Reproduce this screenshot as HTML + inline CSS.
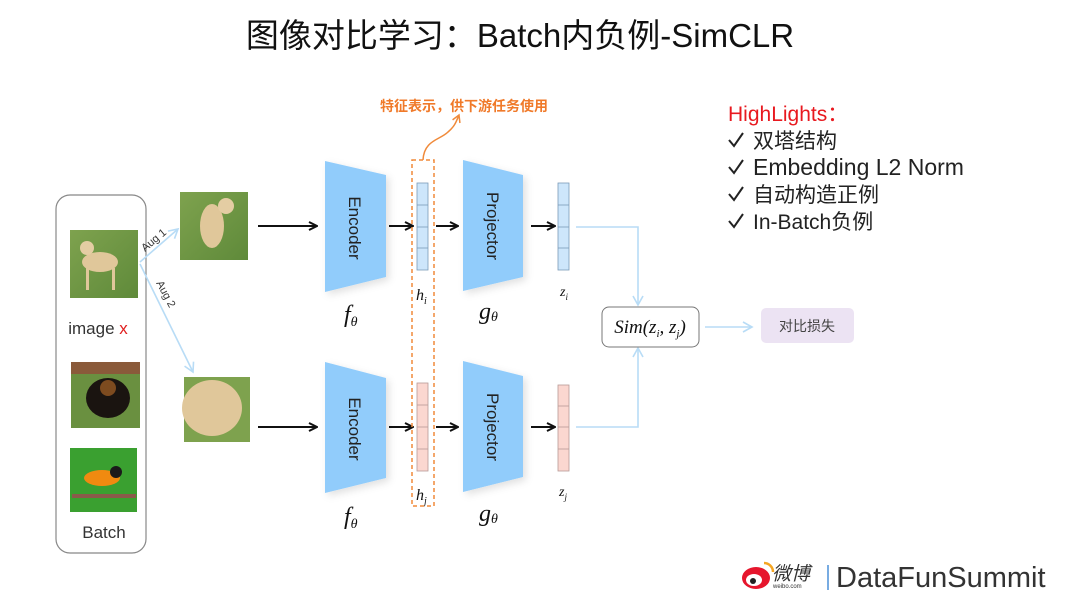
<!DOCTYPE html>
<html><head><meta charset="utf-8"><style>
html,body{margin:0;padding:0;background:#fff;}
svg{display:block;}
.t{font-family:"Liberation Sans","Noto Sans CJK SC",sans-serif;}
</style></head><body>
<svg width="1080" height="608" viewBox="0 0 1080 608" xmlns="http://www.w3.org/2000/svg">
<defs>
<marker id="ab" markerWidth="10" markerHeight="10" refX="9" refY="5" orient="auto" markerUnits="userSpaceOnUse"><path d="M1,1 L9,5 L1,9" fill="none" stroke="#111" stroke-width="2"/></marker>
<marker id="al" markerWidth="12" markerHeight="12" refX="10" refY="6" orient="auto" markerUnits="userSpaceOnUse"><path d="M1,1 L10,6 L1,11" fill="none" stroke="#b8dcf6" stroke-width="1.6"/></marker>
<marker id="ao" markerWidth="10" markerHeight="10" refX="8" refY="5" orient="auto" markerUnits="userSpaceOnUse"><path d="M1,1 L8,5 L1,9" fill="none" stroke="#f08a3a" stroke-width="1.5"/></marker>
<linearGradient id="g1" x1="0" y1="0" x2="1" y2="1"><stop offset="0" stop-color="#7ea24e"/><stop offset="1" stop-color="#5f8a3a"/></linearGradient>
<filter id="sh" x="-20%" y="-20%" width="150%" height="150%"><feDropShadow dx="3" dy="3" stdDeviation="4" flood-color="#000" flood-opacity="0.12"/></filter>
</defs>

<text x="520" y="47" text-anchor="middle" class="t" font-size="33" fill="#111">图像对比学习：Batch内负例-SimCLR</text>

<rect x="56" y="195" width="90" height="358" rx="14" fill="#fff" stroke="#888" stroke-width="1.2"/>
<rect x="70" y="230" width="68" height="68" fill="url(#g1)"/>
<ellipse cx="100" cy="262" rx="18" ry="10" fill="#e0c79a"/><circle cx="87" cy="248" r="7" fill="#e4cda3"/>
<rect x="86" y="268" width="3" height="22" fill="#e0c79a"/><rect x="112" y="268" width="3" height="22" fill="#e0c79a"/>
<text x="98" y="334" text-anchor="middle" class="t" font-size="17" fill="#333">image <tspan fill="#e02020">x</tspan></text>
<rect x="71" y="362" width="69" height="66" fill="#6a9040"/><rect x="71" y="362" width="69" height="12" fill="#8a5a3a"/>
<ellipse cx="108" cy="398" rx="22" ry="20" fill="#1a1410"/><circle cx="108" cy="388" r="8" fill="#c0702a" opacity="0.6"/>
<rect x="70" y="448" width="67" height="64" fill="#3aa030"/>
<ellipse cx="102" cy="478" rx="18" ry="8" fill="#f08a10"/><circle cx="116" cy="472" r="6" fill="#1a1a1a"/><rect x="72" y="494" width="64" height="4" fill="#8a5a4a"/>
<text x="104" y="538" text-anchor="middle" class="t" font-size="17" fill="#333">Batch</text>

<line x1="140" y1="262" x2="178" y2="229" stroke="#b8dcf6" stroke-width="1.6" marker-end="url(#al)"/>
<line x1="140" y1="264" x2="193" y2="372" stroke="#b8dcf6" stroke-width="1.6" marker-end="url(#al)"/>
<text x="0" y="0" class="t" font-size="11" fill="#333" transform="translate(145,252) rotate(-40)">Aug 1</text>
<text x="0" y="0" class="t" font-size="11" fill="#333" transform="translate(156,283) rotate(62)">Aug 2</text>

<rect x="180" y="192" width="68" height="68" fill="url(#g1)"/>
<ellipse cx="212" cy="226" rx="12" ry="22" fill="#e0c79a"/><circle cx="226" cy="206" r="8" fill="#e4cda3"/>
<rect x="184" y="377" width="66" height="65" fill="#7ea24e"/>
<ellipse cx="212" cy="408" rx="30" ry="28" fill="#e0c79a"/>

<g stroke="#111" stroke-width="2" marker-end="url(#ab)">
<line x1="258" y1="226" x2="317" y2="226"/><line x1="258" y1="427" x2="317" y2="427"/>
<line x1="389" y1="226" x2="413" y2="226"/><line x1="389" y1="427" x2="413" y2="427"/>
<line x1="436" y1="226" x2="458" y2="226"/><line x1="436" y1="427" x2="458" y2="427"/>
<line x1="531" y1="226" x2="555" y2="226"/><line x1="531" y1="427" x2="555" y2="427"/>
</g>

<g fill="#91ccfb" filter="url(#sh)">
<polygon points="325,161 386,175 386,277 325,292"/>
<polygon points="325,362 386,378 386,478 325,493"/>
<polygon points="463,160 523,175 523,277 463,291"/>
<polygon points="463,361 523,376 523,477 463,492"/>
</g>
<g class="t" font-size="17" fill="#222">
<text transform="translate(349,228) rotate(90)" text-anchor="middle">Encoder</text>
<text transform="translate(349,429) rotate(90)" text-anchor="middle">Encoder</text>
<text transform="translate(487,226) rotate(90)" text-anchor="middle">Projector</text>
<text transform="translate(487,427) rotate(90)" text-anchor="middle">Projector</text>
</g>
<g font-family="Liberation Serif,serif" font-style="italic" fill="#111">
<text x="344" y="322" font-size="24">f<tspan font-size="14" dy="4">θ</tspan></text>
<text x="344" y="524" font-size="24">f<tspan font-size="14" dy="4">θ</tspan></text>
<text x="479" y="319" font-size="24">g<tspan font-size="14" dy="2">θ</tspan></text>
<text x="479" y="521" font-size="24">g<tspan font-size="14" dy="2">θ</tspan></text>
<text x="416" y="300" font-size="16">h<tspan font-size="10" dy="4">i</tspan></text>
<text x="416" y="500" font-size="16">h<tspan font-size="10" dy="4">j</tspan></text>
<text x="560" y="296" font-size="14">z<tspan font-size="9" dy="4">i</tspan></text>
<text x="559" y="496" font-size="14">z<tspan font-size="9" dy="4">j</tspan></text>
</g>

<g stroke="#7a9bb8" stroke-width="0.8">
<rect x="417" y="183" width="11" height="87" fill="#cde6fb"/>
<line x1="417" y1="205" x2="428" y2="205"/><line x1="417" y1="227" x2="428" y2="227"/><line x1="417" y1="248" x2="428" y2="248"/>
<rect x="558" y="183" width="11" height="87" fill="#cde6fb"/>
<line x1="558" y1="205" x2="569" y2="205"/><line x1="558" y1="227" x2="569" y2="227"/><line x1="558" y1="248" x2="569" y2="248"/>
</g>
<g stroke="#b89a96" stroke-width="0.8">
<rect x="417" y="383" width="11" height="88" fill="#fbd7d0"/>
<line x1="417" y1="405" x2="428" y2="405"/><line x1="417" y1="427" x2="428" y2="427"/><line x1="417" y1="449" x2="428" y2="449"/>
<rect x="558" y="385" width="11" height="86" fill="#fbd7d0"/>
<line x1="558" y1="406" x2="569" y2="406"/><line x1="558" y1="427" x2="569" y2="427"/><line x1="558" y1="449" x2="569" y2="449"/>
</g>

<rect x="412" y="160" width="22" height="346" fill="none" stroke="#f08a3a" stroke-width="1.5" stroke-dasharray="4,3"/>
<path d="M423,160 C424,140 440,140 448,132 C455,126 456,122 459,115" fill="none" stroke="#f08a3a" stroke-width="1.5" marker-end="url(#ao)"/>
<text x="380" y="111" class="t" font-size="14" font-weight="bold" fill="#f07a2a">特征表示，供下游任务使用</text>

<polyline points="576,227 638,227 638,305" fill="none" stroke="#b8dcf6" stroke-width="1.6" marker-end="url(#al)"/>
<polyline points="576,427 638,427 638,348" fill="none" stroke="#b8dcf6" stroke-width="1.6" marker-end="url(#al)"/>
<line x1="705" y1="327" x2="752" y2="327" stroke="#b8dcf6" stroke-width="1.6" marker-end="url(#al)"/>

<rect x="602" y="307" width="97" height="40" rx="7" fill="#fff" stroke="#777" stroke-width="1"/>
<text x="650" y="333" text-anchor="middle" font-family="Liberation Serif,serif" font-style="italic" font-size="19" fill="#111">Sim(z<tspan font-size="11" dy="4">i</tspan><tspan dy="-4">, z</tspan><tspan font-size="11" dy="4">j</tspan><tspan dy="-4">)</tspan></text>
<rect x="761" y="308" width="93" height="35" rx="5" fill="#ece3f3"/>
<text x="807" y="331" text-anchor="middle" class="t" font-size="14" fill="#444">对比损失</text>

<g class="t" font-size="21" fill="#222">
<text x="728" y="121" fill="#e8191f">HighLights：</text>
<text x="753" y="148">双塔结构</text>
<text x="753" y="175" font-size="23">Embedding L2 Norm</text>
<text x="753" y="202">自动构造正例</text>
<text x="753" y="229">In-Batch负例</text>
</g>
<g fill="none" stroke="#222" stroke-width="2">
<path d="M729,140 L734,146 L743,133"/>
<path d="M729,167 L734,173 L743,160"/>
<path d="M729,194 L734,200 L743,187"/>
<path d="M729,221 L734,227 L743,214"/>
</g>

<ellipse cx="756" cy="578" rx="14" ry="11" fill="#e6162d"/>
<ellipse cx="754" cy="580" rx="8" ry="6" fill="#fff"/><circle cx="753" cy="581" r="3" fill="#222"/>
<path d="M764,563 a9,9 0 0 1 9,9" fill="none" stroke="#f5a623" stroke-width="2.5"/>
<text x="772" y="580" class="t" font-size="19" font-style="italic" fill="#333">微博</text>
<text x="773" y="588" class="t" font-size="6" fill="#333">weibo.com</text>
<line x1="828" y1="565" x2="828" y2="590" stroke="#4a90d9" stroke-width="1.5"/>
<text x="836" y="587" class="t" font-size="29" fill="#333">DataFunSummit</text>
</svg>
</body></html>
